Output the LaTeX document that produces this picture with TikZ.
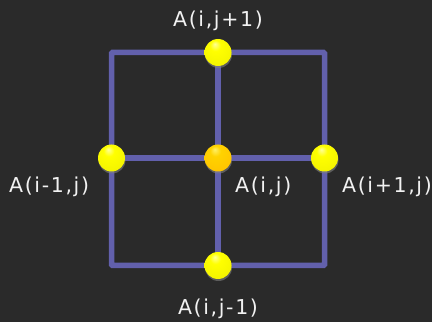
\documentclass[tikz,border=0pt]{standalone}
\usepackage{fontspec}
\setmainfont[LetterSpace=8]{DejaVu Sans}
\usetikzlibrary{shadows,backgrounds}
\definecolor{bgdark}{HTML}{2A2A2A}
\definecolor{gridline}{HTML}{6260AC}
\definecolor{labeltext}{HTML}{F2F2F2}
\pgfdeclareradialshading{yellowball}{\pgfpoint{-6bp}{16bp}}{%
    color(0bp)=(yellow!40!white); color(10bp)=(yellow); color(30bp)=(yellow!96!black);
    color(42bp)=(yellow!80!black); color(50bp)=(yellow!55!black)}
\pgfdeclareradialshading{orangeball}{\pgfpoint{-6bp}{16bp}}{%
    color(0bp)=(yellow!80!orange!60!white); color(10bp)=(yellow!65!orange); color(30bp)=(yellow!55!orange);
    color(42bp)=(yellow!45!orange!85!black); color(50bp)=(orange!55!black)}
\tikzset{
    ball/.style={circle, minimum size=27pt, inner sep=0pt, shading=#1,
        drop shadow={shadow xshift=0.5pt, shadow yshift=-2pt, opacity=0.6}},
    gridedge/.style={gridline, line width=5.5pt},
    lbl/.style={text=labeltext, font=\fontsize{20.5}{25}\selectfont, inner sep=0pt}
}
\begin{document}
\begin{tikzpicture}[x=1pt, y=1pt]

    \useasboundingbox (0,0) rectangle (432,322);

    \coordinate (nw) at (111.5, 269.5);
    \coordinate (se) at (324.5, 56.5);

    \node[ball=yellowball] (n) at (218, 269.5) {};
    \node[ball=yellowball] (s) at (218, 56.5) {};
    \node[ball=yellowball] (w) at (111.5, 164) {};
    \node[ball=yellowball] (e) at (324.5, 164) {};
    \node[ball=orangeball] (c) at (218, 164) {};

    % grid lines behind the balls
    \begin{scope}[on background layer]
        \fill[bgdark] (0,0) rectangle (432,322);
        \draw[gridedge, rounded corners=1pt] (nw) rectangle (se);
        \draw[gridedge] (n.center) -- (s.center);
        \draw[gridedge] (w.center) -- (e.center);
    \end{scope}

    \node[lbl, anchor=base] (ln) at (218, 295) {A(i,j+1)};
    \node[lbl, anchor=base west] (lw) at (9, 129) {A(i-1,j)};
    \node[lbl, anchor=base west] (lc) at (235, 129) {A(i,j)};
    \node[lbl, anchor=base east] (le) at (432, 129) {A(i+1,j)};
    \node[lbl, anchor=base] (ls) at (218, 7) {A(i,j-1)};

\end{tikzpicture}
\end{document}
